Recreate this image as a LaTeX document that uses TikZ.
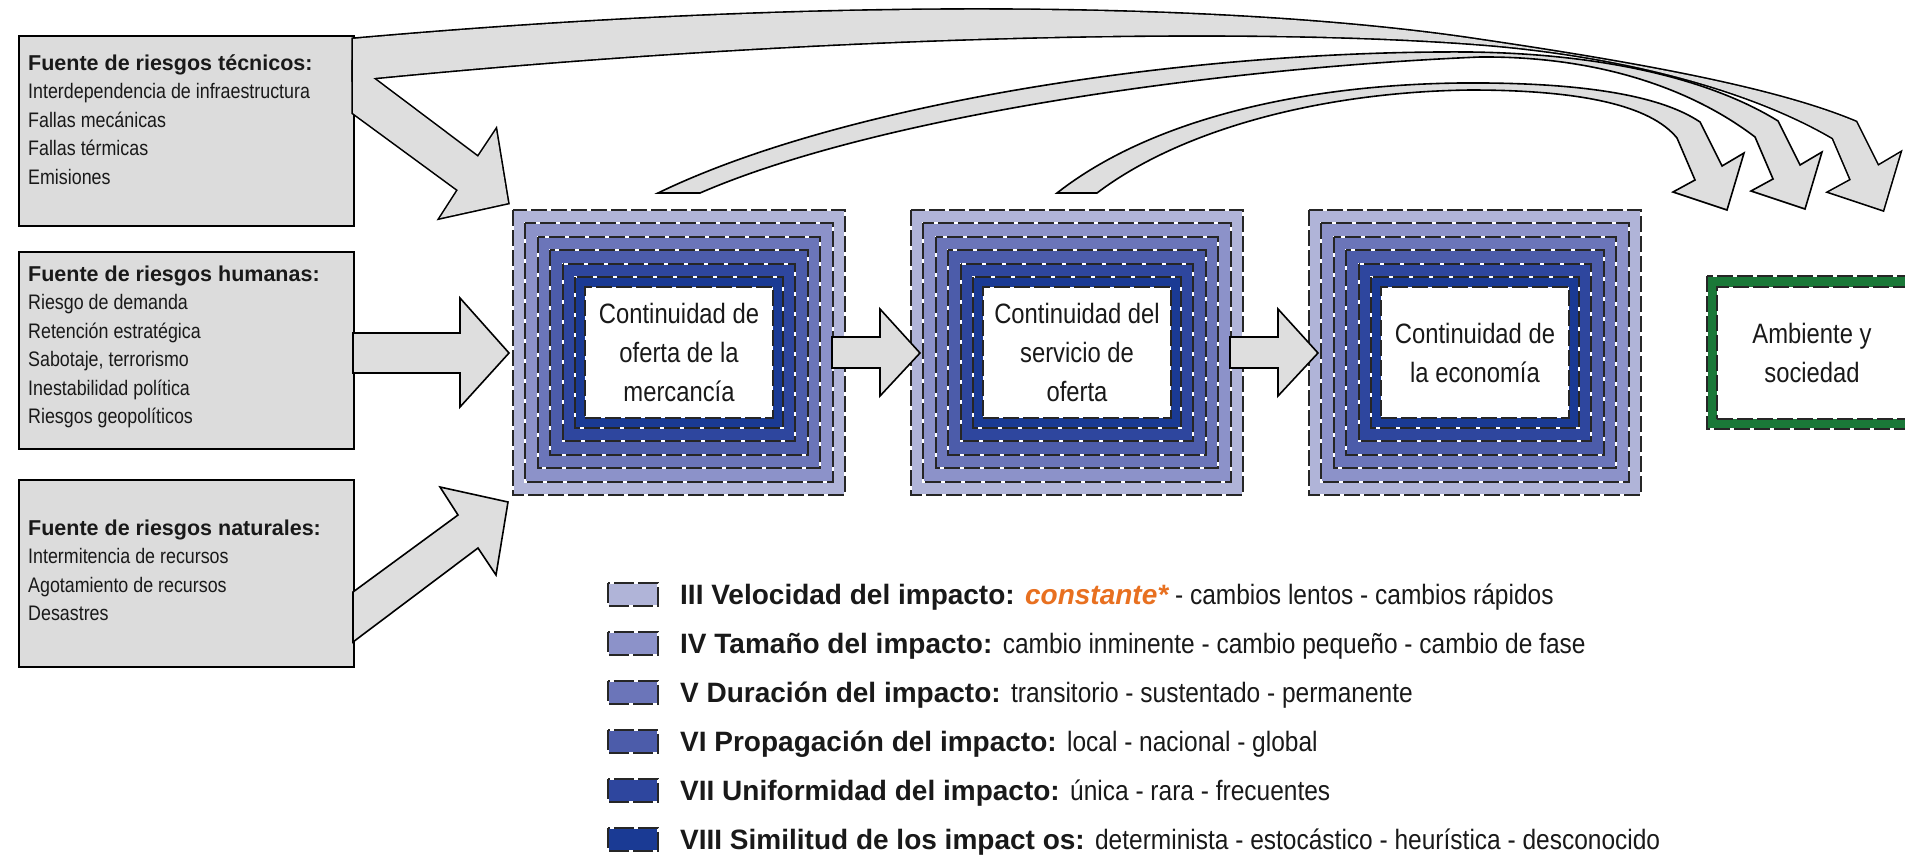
\documentclass[tikz,border=0pt]{standalone}
\usepackage{fontspec}
\setmainfont{Liberation Sans}
\newfontfamily\narrow[FakeStretch=0.85]{Liberation Sans}
\newfontfamily\narrowleg[FakeStretch=0.875]{Liberation Sans}
\definecolor{lvA}{RGB}{176,180,216}
\definecolor{lvB}{RGB}{140,146,201}
\definecolor{lvC}{RGB}{107,117,185}
\definecolor{lvD}{RGB}{76,92,170}
\definecolor{lvE}{RGB}{46,70,158}
\definecolor{lvF}{RGB}{26,58,148}
\definecolor{boxgray}{RGB}{220,220,220}
\definecolor{arrgray}{RGB}{222,222,222}
\definecolor{envgreen}{RGB}{26,120,56}
\definecolor{orng}{RGB}{232,112,32}
\definecolor{txt}{RGB}{25,25,25}
\newcommand\ringbox[2]{%
  \foreach \c [count=\k from 0] in {lvA,lvB,lvC,lvD,lvE,lvF}{%
    \fill[\c] (#1+12.4*\k, #2+13.4*\k) rectangle (#1+332-12.4*\k, #2+285-13.4*\k);
    \draw[white, line width=2pt] (#1+12.4*\k, #2+13.4*\k) rectangle (#1+332-12.4*\k, #2+285-13.4*\k);
    \draw[dashb] (#1+12.4*\k, #2+13.4*\k) rectangle (#1+332-12.4*\k, #2+285-13.4*\k);
  }}
\begin{document}
\begin{tikzpicture}[x=1pt,y=-1pt,
  dashb/.style={draw=black!85, line width=2pt, dash pattern=on 16pt off 4pt},
  srcbox/.style={draw=black, line width=1.8pt, fill=boxgray, anchor=north west, inner sep=0},
  srctitle/.style={anchor=base west, inner sep=0, text=txt, font=\fontsize{21.5}{26}\selectfont\bfseries},
  srcitem/.style={anchor=base west, inner sep=0, text=txt, font=\narrow\fontsize{21}{26}\selectfont},
  blk/.style={draw=black, line width=1.6pt, fill=arrgray, line join=miter},
  wbox/.style={fill=white, draw=black!85, line width=2pt, dash pattern=on 16pt off 4pt, inner sep=0, align=center, text=txt, font=\narrow\fontsize{28}{39}\selectfont},
  legbold/.style={anchor=base west, inner sep=0, text=txt, font=\fontsize{28}{34}\selectfont}
  ]
\useasboundingbox (0,0) rectangle (1905,860);
\fill[white] (0,0) rectangle (1905,860);

% source boxes
\node[srcbox, minimum width=335pt, minimum height=190pt] (srcT) at (18,35) {};
\node[srcbox, minimum width=335pt, minimum height=197pt] (srcH) at (18,251) {};
\node[srcbox, minimum width=335pt, minimum height=187pt] (srcN) at (18,479) {};

\node[srctitle] (tT) at (28,70) {Fuente de riesgos técnicos:};
\foreach \t [count=\i] in {Interdependencia de infraestructura, Fallas mecánicas, Fallas térmicas, Emisiones}
  \node[srcitem] (tT\i) at (28,{98.5+28.5*(\i-1)}) {\t};
\node[srctitle] (tH) at (28,281) {Fuente de riesgos humanas:};
\foreach \t [count=\i] in {Riesgo de demanda, Retención estratégica, {Sabotaje, terrorismo}, Inestabilidad política, Riesgos geopolíticos}
  \node[srcitem] (tH\i) at (28,{309.5+28.5*(\i-1)}) {\t};
\node[srctitle] (tN) at (28,535) {Fuente de riesgos naturales:};
\foreach \t [count=\i] in {Intermitencia de recursos, Agotamiento de recursos, Desastres}
  \node[srcitem] (tN\i) at (28,{563.5+28.5*(\i-1)}) {\t};

% concentric boxes
\ringbox{513}{210}
\ringbox{911}{210}
\ringbox{1309}{210}
\node[wbox, minimum width=188pt, minimum height=131pt] (c1) at (679,352.5) {Continuidad de\\oferta de la\\mercancía};
\node[wbox, minimum width=188pt, minimum height=131pt] (c2) at (1077,352.5) {Continuidad del\\servicio de\\oferta};
\node[wbox, minimum width=188pt, minimum height=131pt] (c3) at (1475,352.5) {Continuidad de\\la economía};

% environment box
\begin{scope}
\clip (0,0) rectangle (1905,860);
\fill[envgreen] (1707,276) rectangle (1917,429);
\draw[white, line width=2pt] (1707,276) rectangle (1917,429);
\draw[dashb] (1707,276) rectangle (1917,429);
\node[wbox, minimum width=190pt, minimum height=132pt] (env) at (1812,352.5) {Ambiente y\\sociedad};
\end{scope}

% block arrows: technical source (union of two)
\def\bandC{(353,39) .. controls (850,-5) and (1250,5) .. (1480,40) .. controls (1650,65) and (1780,90) .. (1856,122) -- (1878,166) -- (1900,153) -- (1883,210) -- (1829,192) -- (1851,180) -- (1833,138) .. controls (1760,95) and (1640,58) .. (1490,45) .. controls (1250,25) and (800,35) .. (353,80) -- cycle}
\def\diagT{(353,63) -- (478,157) -- (496,130) -- (508,203) -- (440,218) -- (458,190) -- (353,113) -- cycle}
\draw[line width=3.2pt, line join=miter] \bandC;
\draw[line width=3.2pt, line join=miter] \diagT;
\fill[arrgray] \bandC;
\fill[arrgray] \diagT;

% human and natural sources
\path[blk] (353,333) -- (460,333) -- (460,298) -- (509,353) -- (460,407) -- (460,373) -- (353,373) -- cycle;
\path[blk] (353,642) -- (478,548) -- (496,575) -- (508,502) -- (440,487) -- (458,515) -- (353,592) -- cycle;

% between boxes
\path[blk] (832,337) -- (880,337) -- (880,309) -- (920,353) -- (880,396) -- (880,368) -- (832,368) -- cycle;
\path[blk] (1230,337) -- (1278,337) -- (1278,309) -- (1318,353) -- (1278,396) -- (1278,368) -- (1230,368) -- cycle;

% swooshes
\path[blk] (658,193) .. controls (850,100) and (1200,50) .. (1470,52) .. controls (1620,54) and (1720,85) .. (1778,121) -- (1800,165) -- (1822,152) -- (1805,209) -- (1751,191) -- (1773,179) -- (1755,137) .. controls (1700,95) and (1610,56) .. (1480,57) .. controls (1220,68) and (880,115) .. (700,193) -- cycle;
\path[blk] (1057,193) .. controls (1150,120) and (1300,85) .. (1460,83) .. controls (1580,82) and (1660,95) .. (1700,122) -- (1722,166) -- (1744,153) -- (1727,210) -- (1673,192) -- (1695,180) -- (1677,138) .. controls (1650,105) and (1580,90) .. (1470,90) .. controls (1320,92) and (1180,130) .. (1097,193) -- cycle;

% legend
\foreach \col [count=\i from 0] in {lvA,lvB,lvC,lvD,lvE,lvF}{
  \fill[\col] (608,{582.5+49*\i}) rectangle (658,{605.5+49*\i});
  \draw[white, line width=2pt] (608,{582.5+49*\i}) rectangle (658,{605.5+49*\i});
  \draw[draw=black!85, line width=2pt, dash pattern=on 20pt off 4pt] (608,{582.5+49*\i}) rectangle (658,{605.5+49*\i});
}
\node[legbold] (l3) at (680,604) {\bfseries III Velocidad del impacto: \textcolor{orng}{\itshape constante*}\mdseries\narrowleg{} - cambios lentos - cambios rápidos};
\node[legbold] (l4) at (680,653) {\bfseries IV Tamaño del impacto: \mdseries\narrowleg cambio inminente - cambio pequeño - cambio de fase};
\node[legbold] (l5) at (680,702) {\bfseries V Duración del impacto: \mdseries\narrowleg transitorio - sustentado - permanente};
\node[legbold] (l6) at (680,751) {\bfseries VI Propagación del impacto: \mdseries\narrowleg local - nacional - global};
\node[legbold] (l7) at (680,800) {\bfseries VII Uniformidad del impacto: \mdseries\narrowleg única - rara - frecuentes};
\node[legbold] (l8) at (680,849) {\bfseries VIII Similitud de los impact os: \mdseries\narrowleg determinista - estocástico - heurística - desconocido};
\end{tikzpicture}
\end{document}
